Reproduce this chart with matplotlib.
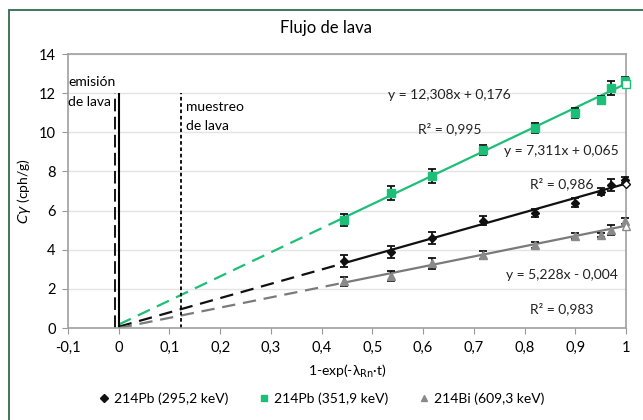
import matplotlib.pyplot as plt
import numpy as np
from matplotlib.patches import Rectangle

plt.rcParams['font.family'] = ['Lato', 'DejaVu Sans']
plt.rcParams['mathtext.fontset'] = 'dejavusans'

# Data
x = [0.444, 0.536, 0.618, 0.718, 0.820, 0.899, 0.950, 0.971, 0.999]
pb295 = [3.43, 3.87, 4.58, 5.48, 5.89, 6.40, 6.96, 7.30, 7.55]
pb295_err = [0.30, 0.30, 0.30, 0.22, 0.20, 0.22, 0.18, 0.30, 0.15]
pb352 = [5.51, 6.90, 7.77, 9.08, 10.20, 10.98, 11.66, 12.27, 12.60]
pb352_err = [0.30, 0.38, 0.35, 0.25, 0.25, 0.25, 0.20, 0.35, 0.20]
bi609 = [2.38, 2.66, 3.31, 3.73, 4.24, 4.72, 4.75, 5.00, 5.48]
bi609_err = [0.25, 0.25, 0.28, 0.18, 0.15, 0.15, 0.12, 0.25, 0.15]

# Trend lines (slope, intercept) as printed on the chart
fit_pb295 = (7.311, 0.065)
fit_pb352 = (12.308, 0.176)
fit_bi609 = (5.228, -0.004)

labels = ['214Pb (295,2 keV)', '214Pb (351,9 keV)', '214Bi (609,3 keV)']
eq_texts = ['y = 7,311x + 0,065', 'y = 12,308x + 0,176', 'y = 5,228x - 0,004']
r2_texts = ['R² = 0,986', 'R² = 0,995', 'R² = 0,983']

green = '#1dbf78'
black = '#101010'
gray = '#8a8a8a'

fig = plt.figure(figsize=(6.43, 4.20), dpi=100)
ax = fig.add_axes([68 / 643, 1 - 328 / 420, (626 - 68) / 643, (328 - 54) / 420])

# dark green frame (top and left visible)
fig.patches.append(Rectangle((9 / 643, -0.1), 1.2, 1 - 10 / 420 + 0.1, transform=fig.transFigure,
                             fill=False, edgecolor='#2f6b4e', linewidth=1.3))

series = [
    (pb295, pb295_err, fit_pb295, black, 'D', 4.5, black),
    (pb352, pb352_err, fit_pb352, green, 's', 6, green),
    (bi609, bi609_err, fit_bi609, gray, '^', 6, '#7a7a7a'),
]

handles = []
for (y, yerr, fit, col, mk, ms, lcol), lab in zip(series, labels):
    m, b = fit
    # dashed backwards forecast
    xd = np.array([0.0, x[0]])
    ax.plot(xd, m * xd + b, ls=(0, (6, 3.5)), color=lcol, lw=1.6, zorder=2)
    xs = np.array([x[0], 1.0])
    ax.plot(xs, m * xs + b, color=lcol, lw=1.6, zorder=2)
    ax.errorbar(x, y, yerr=yerr, fmt='none', ecolor='#111111', elinewidth=1.3,
                capsize=3, capthick=1.3, zorder=3, clip_on=False)
    h, = ax.plot(x, y, ls='none', marker=mk, ms=ms, color=col, zorder=4, label=lab,
                 clip_on=False)
    ax.plot([1.0], [m * 1.0 + b], ls='none', marker=mk, ms=ms, mfc='white', mec=col,
            mew=1.0, zorder=5, clip_on=False)
    handles.append(h)

# vertical reference lines
ax.vlines(-0.008, 0, 12, colors='black', linestyles=(0, (7, 3)), lw=1.3, zorder=2)
ax.vlines(0.0, 0, 12, colors='black', lw=1.5, zorder=2)
ax.vlines(0.122, 0, 12, colors='black', linestyles=(0, (2, 1.5)), lw=1.3, zorder=2)

ax.text(-0.1, 12.56, 'emisión', fontsize=10, va='center', ha='left')
ax.text(-0.1, 11.54, 'de lava', fontsize=10, va='center', ha='left')
ax.text(0.132, 11.28, 'muestreo', fontsize=10, va='center', ha='left')
ax.text(0.132, 10.30, 'de lava', fontsize=10, va='center', ha='left')

eq_pos = [(0.873, 9.05, 7.35), (0.652, 11.88, 10.18), (0.873, 2.70, 1.00)]
for (xp, ye, yr), et, rt in zip(eq_pos, eq_texts, r2_texts):
    ax.text(xp, ye, et, fontsize=10, ha='center', va='center', color='#222222')
    ax.text(xp, yr, rt, fontsize=10, ha='center', va='center', color='#222222')

ax.set_xlim(-0.1, 1.0)
ax.set_ylim(0, 14)
ax.set_xticks(np.arange(-0.1, 1.01, 0.1))
ax.set_xticklabels(['-0,1', '0', '0,1', '0,2', '0,3', '0,4', '0,5', '0,6', '0,7', '0,8', '0,9', '1'])
ax.set_yticks(range(0, 15, 2))
ax.tick_params(labelsize=10.5, length=4, color='#999999', pad=5)
ax.grid(axis='y', color='#e4e4e4', lw=1)
ax.set_axisbelow(True)
for s in ax.spines.values():
    s.set_color('#a0a0a0')
    s.set_linewidth(1.2)

ax.set_xlabel('1-exp(-λ$_{\\mathrm{Rn}}$·t)', fontsize=10, labelpad=6)
ax.set_ylabel('$C\\gamma$ (cph/g)', fontsize=10, labelpad=4)
fig.text(326 / 643, 1 - 28 / 420, 'Flujo de lava', fontsize=12, ha='center', va='center')

fig.legend(handles=handles, labels=labels, loc='center', bbox_to_anchor=(0.5, 1 - 399 / 420),
           ncol=3, frameon=False, fontsize=10, handlelength=0.8, handletextpad=0.3,
           columnspacing=2.2, markerscale=0.8)

fig.savefig('out.png', dpi=100)
